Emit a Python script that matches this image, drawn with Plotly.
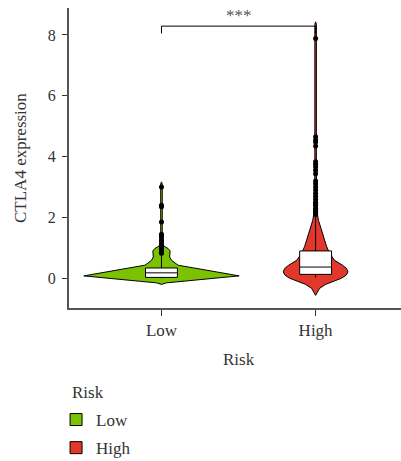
import plotly.graph_objects as go

# ---- data -----------------------------------------------------------------
groups = ["Low", "High"]
group_pos = [1, 2]
fill_colors = ["#7BC200", "#E2382B"]

# violin density profiles: expression level and half-width (category units)
low_levels = [-0.20, -0.15, -0.10, -0.05, 0.00, 0.05, 0.08, 0.15, 0.25, 0.35,
              0.43, 0.50, 0.59, 0.70, 0.80, 0.90, 0.97, 1.03, 1.08, 1.20,
              3.10, 3.17]
low_half = [0.000, 0.032, 0.135, 0.238, 0.340, 0.442, 0.504, 0.425, 0.312,
            0.199, 0.108, 0.088, 0.065, 0.053, 0.054, 0.056, 0.045, 0.026,
            0.010, 0.005, 0.005, 0.000]

high_levels = [-0.56, -0.45, -0.33, -0.20, -0.12, 0.00, 0.10, 0.21, 0.32,
               0.43, 0.59, 0.82, 1.05, 1.25, 1.58, 1.90, 2.13, 2.50, 3.00,
               3.50, 8.35, 8.43]
high_half = [0.000, 0.010, 0.026, 0.065, 0.102, 0.167, 0.198, 0.210, 0.201,
             0.175, 0.123, 0.091, 0.071, 0.058, 0.037, 0.019, 0.011, 0.008,
             0.006, 0.005, 0.005, 0.000]

# box statistics
q1 = [0.03, 0.13]
median = [0.18, 0.37]
q3 = [0.34, 0.90]
lower_fence = [0.00, 0.02]
upper_fence = [0.80, 2.05]
box_width = 0.207

# outlying samples
low_outliers = [3.00, 2.40, 2.35, 1.85, 1.45, 1.40, 1.33, 1.25, 1.20, 1.12,
                1.05, 1.00, 0.95, 0.90, 0.85, 0.82]
high_outliers = [7.88, 4.65, 4.55, 4.48, 4.35, 3.83, 3.75, 3.66, 3.55, 3.44,
                 3.20, 3.11, 3.00, 2.90, 2.80, 2.70, 2.60, 2.50, 2.45, 2.40,
                 2.30, 2.25, 2.20, 2.15, 2.10]

# significance bracket
bracket_x = [1, 1, 2, 2]
bracket_y = [8.05, 8.29, 8.29, 8.05]
signif_label = "***"

FONT = "Liberation Serif, Times New Roman, serif"
TXT = "#333333"

fig = go.Figure()


def line_trace(xs, ys, width=1):
    return go.Scatter(x=xs, y=ys, mode="lines",
                      line=dict(color="black", width=width),
                      showlegend=False, hoverinfo="skip")


profiles = [(low_levels, low_half), (high_levels, high_half)]
outliers = [low_outliers, high_outliers]

for i, (lv, hw) in enumerate(profiles):
    c = group_pos[i]
    # violin body
    xs = [c - h for h in hw] + [c + h for h in reversed(hw)]
    ys = list(lv) + list(reversed(lv))
    fig.add_trace(go.Scatter(
        x=xs, y=ys, mode="lines", fill="toself",
        fillcolor=fill_colors[i], line=dict(color="black", width=1),
        showlegend=False, hoverinfo="skip"))

    # outliers
    pts = outliers[i]
    fig.add_trace(go.Scatter(
        x=[c] * len(pts), y=pts, mode="markers",
        marker=dict(color="black", size=5, line=dict(width=0)),
        showlegend=False, hoverinfo="skip"))

    # whiskers
    fig.add_trace(line_trace([c, c, None, c, c],
                             [lower_fence[i], q1[i], None, q3[i], upper_fence[i]]))

    # box
    hb = box_width / 2
    fig.add_trace(go.Scatter(
        x=[c - hb, c + hb, c + hb, c - hb, c - hb],
        y=[q1[i], q1[i], q3[i], q3[i], q1[i]],
        mode="lines", fill="toself", fillcolor="white",
        line=dict(color="black", width=1),
        showlegend=False, hoverinfo="skip"))
    fig.add_trace(line_trace([c - hb, c + hb], [median[i], median[i]]))

fig.add_trace(line_trace(bracket_x, bracket_y))

# legend entries
for i, g in enumerate(groups):
    fig.add_trace(go.Bar(
        x=[None], y=[None], name=g, legendgroup=g,
        marker=dict(color=fill_colors[i], line=dict(color="black", width=1))))

fig.add_annotation(x=1.5, y=8.63, xref="x", yref="y", text=signif_label,
                   showarrow=False, font=dict(family=FONT, size=17, color="#555555"))
# axis titles
fig.add_annotation(x=1.5, y=-0.173, xref="x", yref="paper", text="Risk",
                   showarrow=False, yanchor="middle",
                   font=dict(family=FONT, size=17, color=TXT))
fig.add_annotation(x=-0.1476, y=0.5, xref="paper", yref="paper",
                   text="CTLA4 expression", textangle=-90, showarrow=False,
                   xanchor="center", yanchor="middle",
                   font=dict(family=FONT, size=17, color=TXT))
# legend heading
fig.add_annotation(x=0.003, y=-0.283, xref="paper", yref="paper", text="Risk",
                   showarrow=False, xanchor="left", yanchor="middle",
                   font=dict(family=FONT, size=17, color=TXT))

fig.update_layout(
    width=401, height=461,
    margin=dict(l=69, r=0, t=8, b=153),
    plot_bgcolor="white", paper_bgcolor="white",
    font=dict(family=FONT, size=17, color=TXT),
    showlegend=True,
    legend=dict(
        xref="paper", yref="container",
        x=-0.039, xanchor="left", y=0.128, yanchor="top",
        traceorder="grouped", tracegroupgap=3,
        font=dict(family=FONT, size=17, color=TXT),
        bgcolor="rgba(0,0,0,0)"),
)

fig.update_xaxes(
    range=[0.4, 2.554], tickvals=group_pos, ticktext=groups,
    showline=True, linecolor="#555555", linewidth=2,
    ticks="outside", ticklen=6, tickcolor="#333333", tickwidth=1,
    showgrid=False, zeroline=False, tickfont=dict(size=17))

fig.update_yaxes(
    range=[-0.976, 8.886], tickvals=[0, 2, 4, 6, 8],
    showline=True, linecolor="#555555", linewidth=2,
    ticks="outside", ticklen=5, tickcolor="#333333", tickwidth=1,
    ticklabelstandoff=3,
    showgrid=False, zeroline=False, tickfont=dict(size=16))

fig.write_html("out.html")
